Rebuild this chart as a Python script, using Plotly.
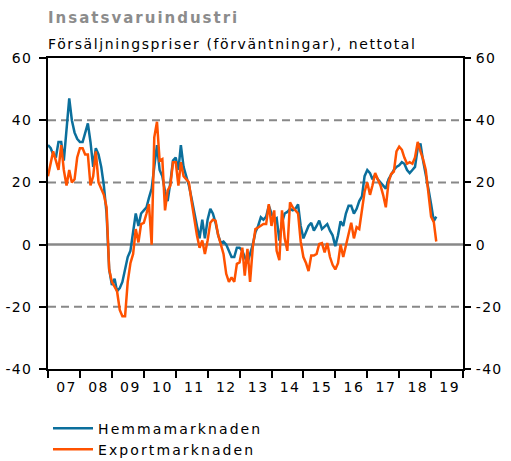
import plotly.graph_objects as go
import pandas as pd

months = pd.date_range("2007-01-01", periods=147, freq="MS")

hemma = [
    32, 31, 29, 28, 33, 33, 27, 37, 47, 40, 36, 34,            # 2007
    33, 33, 36, 39, 33, 25, 31, 29, 25, 19, 10, -8,            # 2008
    -13, -11, -15, -14, -12, -8, -4, -2, 4, 10, 6, 10,         # 2009
    11, 12, 15, 18, 25, 32, 24, 22, 17, 14, 20, 27,            # 2010
    28, 24, 32, 25, 22, 19, 15, 10, 6, 2, 8, 2,                # 2011
    8, 11.5, 10, 7, 3, 0.5, 1, 0, -2, -4, -4, -1,              # 2012
    -1, -2, -4, -6, -3, 0, 4, 6, 8.8, 8, 9, 12.5,              # 2013
    10, 8, 8.5, 1.3, 7, 10, 10.5, 11.5, 11, 11.5, 12.9, 6,     # 2014
    2, 4, 6, 7, 4.5, 6, 7.7, 5, 6, 6.6, 4.5, 3,                # 2015
    -0.5, 3, 7.5, 6, 10, 12.5, 12.5, 10, 11.5, 14, 15.5, 22,   # 2016
    24, 23, 21, 22.5, 21, 20, 19, 18, 21, 22.7, 24, 25,        # 2017
    25.5, 26.5, 26, 24, 23, 24, 25, 31, 32.5, 27, 23, 18,      # 2018
    13, 7.5, 9,                                                # 2019
]

export = [
    22, 26, 30, 27, 24, 32, 24, 19, 24, 20, 21, 28,            # 2007
    31, 31, 29, 29, 19, 22, 30, 20, 18, 16, 12, -8,            # 2008
    -12, -13.7, -15, -21, -23, -23, -12, -6, -3, 5, 0.7, 6.6,  # 2009
    7, 10, 13, 0, 34.5, 39.5, 27, 27.5, 11, 17.4, 19, 26.5,    # 2010
    26.5, 19, 26.5, 22, 21, 20, 14, 7.7, 3, -1, 1.3, -3,       # 2011
    1.3, 7, 8, 7.7, 3, 0, -3, -9.4, -12, -10.5, -12, -6.2,     # 2012
    -5.7, -1, -10, -1.4, -12, -0.8, 5, 5.5, 6, 6.6, 6.6, 13,   # 2013
    6, 11, -2, -5, 11, 2, -2, 13.6, 12, 11, 10, 1,             # 2014
    -4, -6, -8.5, -3.5, -3.5, -3, 0.2, 0.5, -2.5, 0.5, -4, -6.5,  # 2015
    -8, -6, 0, -4, 0, 4, 7, 2, 5.6, 5, 11, 17,                 # 2016
    20, 16, 19, 23, 21, 19, 16, 12, 20, 22.7, 23.5, 30,        # 2017
    31.5, 30.5, 28, 26, 26.5, 26, 28, 33, 30, 27.5, 24, 17,    # 2018
    9, 7.2, 1,                                                 # 2019
]

y_ticks = [-40, -20, 0, 20, 40, 60]
grid_dashed = [-20, 20, 40]
year_labels = ["07", "08", "09", "10", "11", "12", "13", "14", "15", "16", "17", "18", "19"]
year_label_pos = pd.date_range("2007-07-02", periods=len(year_labels), freq="12MS") + pd.Timedelta(days=1)

series_names = ["Hemmamarknaden", "Exportmarknaden"]
colors = ["#0b6f9c", "#ff5200"]


def spaced(t, ls):
    return f'<span style="letter-spacing:{ls}px">{t}</span>'


fig = go.Figure()
for name, vals, col in zip(series_names, [hemma, export], colors):
    fig.add_trace(go.Scatter(
        x=months, y=vals, mode="lines",
        name=spaced(name, 2.1),
        line=dict(color=col, width=2.5),
    ))

# horizontal reference lines
for v in grid_dashed:
    fig.add_shape(type="line", xref="paper", x0=0, x1=1, yref="y", y0=v, y1=v,
                  line=dict(color="#888888", width=2, dash="8px,5px"), layer="below")
fig.add_shape(type="line", xref="paper", x0=0, x1=1, yref="y", y0=0, y1=0,
              line=dict(color="#888888", width=2.5), layer="below")

font = dict(family="DejaVu Sans, Verdana, sans-serif", size=14, color="#000000")
y_ticktext = [spaced(str(v), 1.3) for v in y_ticks]

fig.update_layout(
    width=511, height=461,
    margin=dict(l=48, r=48, t=58, b=92, autoexpand=False),
    paper_bgcolor="white", plot_bgcolor="white",
    font=font,
    showlegend=True,
    legend=dict(
        x=0.0, y=-0.14, xanchor="left", yanchor="top",
        orientation="v", itemwidth=40, tracegroupgap=0,
        font=dict(family="DejaVu Sans, Verdana, sans-serif", size=14),
        bgcolor="rgba(0,0,0,0)",
    ),
    xaxis=dict(
        type="date", automargin=False,
        range=["2007-01-01", "2020-01-01"],
        tickvals=year_label_pos, ticktext=[spaced(t, 1.5) for t in year_labels],
        ticks="", ticklabelstandoff=4,
        minor=dict(dtick="M12", tick0="2007-01-01", ticks="outside", ticklen=7,
                   tickwidth=1.5, tickcolor="#000", showgrid=False),
        showline=True, linecolor="#000", linewidth=2, mirror=True,
        showgrid=False, zeroline=False,
        tickfont=dict(size=14),
    ),
    yaxis=dict(
        range=[-40, 60], tickvals=y_ticks, ticktext=y_ticktext, automargin=False,
        ticks="outside", ticklen=7, tickwidth=1.5, tickcolor="#000",
        ticklabelstandoff=4,
        showline=True, linecolor="#000", linewidth=2, mirror=True,
        showgrid=False, zeroline=False,
        tickfont=dict(size=14),
    ),
    yaxis2=dict(
        range=[-40, 60], tickvals=y_ticks, ticktext=y_ticktext,
        overlaying="y", side="right", automargin=False,
        ticks="outside", ticklen=7, tickwidth=1.5, tickcolor="#000",
        ticklabelstandoff=2,
        showline=False, showgrid=False, zeroline=False,
        tickfont=dict(size=14),
    ),
    annotations=[
        dict(text=spaced("<b>Insatsvaruindustri</b>", 2.0),
             xref="paper", yref="paper", x=0, y=1.128, xanchor="left", yanchor="middle",
             xshift=-2, showarrow=False, font=dict(size=15, color="#8c8c8c")),
        dict(text=spaced("Försäljningspriser (förväntningar), nettotal", 1.6),
             xref="paper", yref="paper", x=0, y=1.045, xanchor="left", yanchor="middle",
             xshift=-2, showarrow=False, font=dict(size=14, color="#000000")),
    ],
)

# invisible trace to anchor right axis
fig.add_trace(go.Scatter(x=[months[0]], y=[None], yaxis="y2", showlegend=False,
                         hoverinfo="skip", mode="lines"))

fig.write_html("out.html", config={"displayModeBar": False},
               post_script="document.body.style.margin='0';document.body.style.overflow='hidden';")
